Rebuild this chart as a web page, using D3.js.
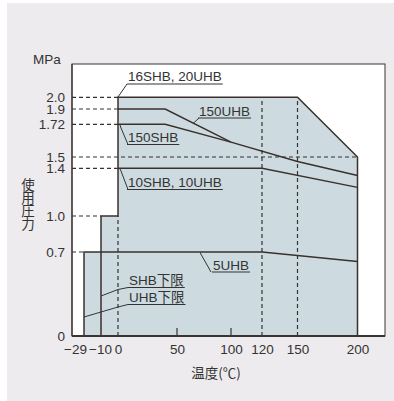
<!DOCTYPE html>
<html>
<head>
<meta charset="utf-8">
<script src="https://cdn.jsdelivr.net/npm/d3@7"></script>
<style>
  body { margin: 0; background: #fff; }
  text { font-family: "Liberation Sans", Arial, "Noto Sans CJK JP", sans-serif; fill: #333; }
</style>
</head>
<body>
<div id="chart"></div>
<script>
// data (temperature °C, pressure MPa)
const xTicks = [-29, -10, 0, 50, 100, 120, 150, 200];
const xTickLabels = ["\u221229", "\u221210", "0", "50", "100", "120", "150", "200"];
const yTicks = [0, 0.7, 1.0, 1.4, 1.5, 1.72, 1.9, 2.0];
const yTickLabels = ["0", "0.7", "1.0", "1.4", "1.5", "1.72", "1.9", "2.0"];

const envelope = [[-29, 0], [-29, 0.7], [-10, 0.7], [-10, 1.0], [0, 1.0], [0, 2.0], [150, 2.0], [200, 1.5], [200, 0]];
const line16SHB = [[-10, 0], [-10, 1.0], [0, 1.0], [0, 2.0], [150, 2.0], [200, 1.5], [200, 0]];
const line150UHB = [[0, 1.9], [40, 1.9], [100, 1.6], [150, 1.46], [200, 1.34]];
const line150SHB = [[0, 1.72], [40, 1.72], [100, 1.6]];
const line10SHB = [[0, 1.4], [120, 1.4], [200, 1.24]];
const line5UHB = [[-29, 0], [-29, 0.7], [120, 0.7], [150, 0.67], [200, 0.62]];

// guide lines: horizontal [value, x end], vertical [x, y top]
const hGuides = [[2.0, 0], [1.9, 0], [1.72, 0], [1.5, 200], [1.4, 0], [1.0, -10], [0.7, -29]];
const vGuides = [[0, 1.0], [120, 2.0], [150, 2.0]];
const innerTicks = [50, 100];

const svgwidth = 394, svgheight = 401;
const box = {left: 72, right: 385, top: 64, bottom: 336};

const svg = d3.select('#chart').append('svg')
    .attr('width', svgwidth).attr('height', svgheight);

// background panel
svg.append('rect').attr('x', 7).attr('y', 3)
    .attr('width', svgwidth - 7).attr('height', svgheight - 3)
    .attr('fill', '#eeebee');

svg.append('rect').attr('x', box.left).attr('y', box.top)
    .attr('width', box.right - box.left).attr('height', box.bottom - box.top)
    .attr('fill', '#fff').attr('stroke', '#3a3433').attr('stroke-width', 1);

// stylised (non-uniform) scales as in the original chart
const x = d3.scaleLinear().domain(xTicks)
    .range([84, 101, 118, 177, 231, 262, 297.5, 357.5]);
const y = d3.scaleLinear().domain(yTicks)
    .range([336, 252, 216, 168.3, 157, 124.3, 109, 97.3]);

const line = d3.line().x(d => x(d[0])).y(d => y(d[1]));

// shaded area
svg.append('path').datum(envelope)
    .attr('d', line)
    .attr('fill', '#cddbe0');

// dashed guides
const dash = '4,3';
hGuides.forEach(g => {
    svg.append('line')
        .attr('x1', box.left).attr('x2', x(g[1]))
        .attr('y1', y(g[0])).attr('y2', y(g[0]))
        .attr('stroke', '#333').attr('stroke-width', 1.2)
        .attr('stroke-dasharray', dash);
});
vGuides.forEach(g => {
    svg.append('line')
        .attr('x1', x(g[0])).attr('x2', x(g[0]))
        .attr('y1', y(0)).attr('y2', y(g[1]))
        .attr('stroke', '#333').attr('stroke-width', 1.2)
        .attr('stroke-dasharray', dash);
});

// pressure lines
[line16SHB, line150UHB, line150SHB, line10SHB, line5UHB].forEach(s => {
    svg.append('path').datum(s)
        .attr('d', line)
        .attr('fill', 'none')
        .attr('stroke', '#3b302c')
        .attr('stroke-width', 1.5)
        .attr('stroke-linejoin', 'miter');
});

// inner ticks at 50 / 100
innerTicks.forEach(t => {
    svg.append('line')
        .attr('x1', x(t)).attr('x2', x(t))
        .attr('y1', y(0)).attr('y2', y(0) - 8)
        .attr('stroke', '#3b302c').attr('stroke-width', 1.2);
});

// axis lines
svg.append('line').attr('x1', box.left).attr('x2', box.right)
    .attr('y1', box.bottom).attr('y2', box.bottom)
    .attr('stroke', '#3a3433').attr('stroke-width', 2);
svg.append('line').attr('x1', box.left).attr('x2', box.left)
    .attr('y1', box.top).attr('y2', box.bottom)
    .attr('stroke', '#3a3433').attr('stroke-width', 1.2);

// axes (labels only)
const xAxis = d3.axisBottom(x).tickValues(xTicks)
    .tickSize(0).tickPadding(8)
    .tickFormat((d, i) => xTickLabels[i]);
const gx = svg.append('g').attr('transform', `translate(0,${box.bottom})`).call(xAxis);
gx.select('.domain').remove();
gx.selectAll('text')
    .style('font-size', '13.5px')
    .attr('fill', '#333')
    .attr('dx', (d) => d === -29 ? -9 : (d === -10 ? -1 : 0));

const yAxis = d3.axisLeft(y).tickValues(yTicks)
    .tickSize(0).tickPadding(7)
    .tickFormat((d, i) => yTickLabels[i]);
const gy = svg.append('g').attr('transform', `translate(${box.left},0)`).call(yAxis);
gy.select('.domain').remove();
gy.selectAll('text').style('font-size', '13.5px').attr('fill', '#333');

// axis titles
svg.append('text').attr('x', 33).attr('y', 63.5)
    .style('font-size', '13.5px').text('MPa');

svg.append('text').attr('x', 216).attr('y', 378)
    .attr('text-anchor', 'middle')
    .style('font-size', '13.5px')
    .style('font-family', '"Noto Sans CJK JP", sans-serif')
    .text('温度(℃)');

// vertical y title
svg.append('text')
    .attr('x', 28).attr('y', 178)
    .style('writing-mode', 'vertical-rl')
    .style('text-orientation', 'upright')
    .style('letter-spacing', '-0.5px')
    .style('font-size', '13.5px')
    .style('font-family', '"Noto Sans CJK JP", sans-serif')
    .text('使用圧力');

// underlined labels with leader lines
const labels = [
    {text: '16SHB, 20UHB', x: 128, base: 81, ul: 84, leader: [[127, 84], [118, 97]]},
    {text: '150UHB', x: 199, base: 116, ul: 118, leader: [[199, 118], [193, 123.5]]},
    {text: '150SHB', x: 128, base: 142, ul: 144.5, leader: [[128, 144.5], [121, 128], [120, 125]]},
    {text: '10SHB, 10UHB', x: 128, base: 187, ul: 189.5, leader: [[128, 189.5], [121, 171], [120, 169]]},
    {text: '5UHB', x: 213, base: 269.5, ul: 272, leader: [[211, 272], [200, 252.5]]},
    {text: 'SHB下限', x: 129, base: 285, ul: 287.5, leader: [[128, 287.5], [118, 289.5], [101, 296]]},
    {text: 'UHB下限', x: 129, base: 302, ul: 304.5, leader: [[128, 304.5], [118, 307], [84, 317]]}
];

labels.forEach(l => {
    const t = svg.append('text').attr('x', l.x).attr('y', l.base)
        .style('font-size', '13.5px').text(l.text);
    const w = t.node().getComputedTextLength();
    svg.append('line').attr('x1', l.x - 1).attr('x2', l.x + w + 1)
        .attr('y1', l.ul).attr('y2', l.ul)
        .attr('stroke', '#333').attr('stroke-width', 1);
    svg.append('path')
        .attr('d', d3.line()(l.leader))
        .attr('fill', 'none').attr('stroke', '#333').attr('stroke-width', 1);
});
</script>
</body>
</html>
